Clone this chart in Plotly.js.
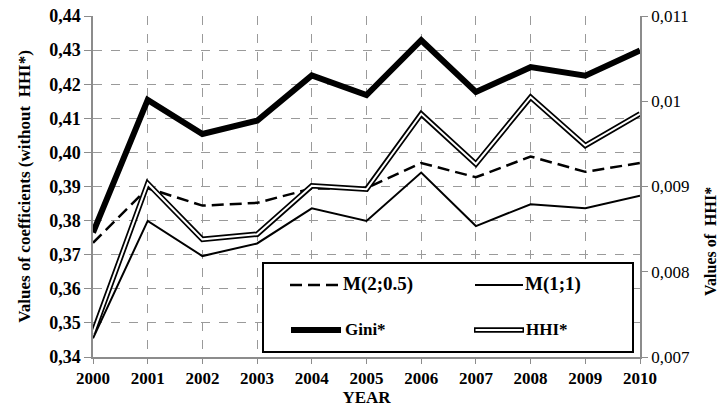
<!DOCTYPE html>
<html>
<head>
<meta charset="utf-8">
<script src="https://cdn.plot.ly/plotly-3.0.1.min.js"></script>
<style>html,body{margin:0;padding:0;background:#fff;}#chart{width:720px;height:407px;}</style>
</head>
<body>
<div id="chart"></div>
<script>
const years = [2000, 2001, 2002, 2003, 2004, 2005, 2006, 2007, 2008, 2009, 2010];
const m205 = [0.3735, 0.3895, 0.3844, 0.3852, 0.3894, 0.3895, 0.3969, 0.3927, 0.3988, 0.3943, 0.3969];
const m11 = [0.3455, 0.3799, 0.3696, 0.3733, 0.3836, 0.3799, 0.3941, 0.3784, 0.3848, 0.3836, 0.3873];
const gini = [0.3765, 0.4154, 0.4054, 0.4093, 0.4226, 0.4168, 0.4329, 0.4177, 0.4250, 0.4225, 0.4299];
const hhi = [0.00728, 0.009036, 0.00838, 0.00844, 0.009008, 0.008968, 0.009852, 0.009264, 0.010048, 0.00948, 0.009852];

const seriesNames = ['M(2;0.5)', 'M(1;1)', 'Gini*', 'HHI*'];

const FONT = 'Liberation Serif';
const gridColor = '#9a9a9a';
const axisColor = '#8c8c8c';

const traces = [
  {x: years, y: m205, name: seriesNames[0], mode: 'lines', line: {color: '#000', width: 2.5, dash: '12px,6px'}, yaxis: 'y'},
  {x: years, y: m11, name: seriesNames[1], mode: 'lines', line: {color: '#000', width: 2}, yaxis: 'y'},
  {x: years, y: hhi, name: seriesNames[3], mode: 'lines', line: {color: '#000', width: 5.5}, yaxis: 'y2'},
  {x: years, y: hhi, name: seriesNames[3], mode: 'lines', line: {color: '#fff', width: 2}, yaxis: 'y2'},
  {x: years, y: gini, name: seriesNames[2], mode: 'lines', line: {color: '#000', width: 6}, yaxis: 'y'}
];

const L = 93, R = 640, T = 16, B = 357;
const W = R - L, H = B - T;
const px = v => (v - L) / W;
const py = v => (B - v) / H;

const shapes = [
  {type: 'rect', xref: 'paper', yref: 'paper', x0: px(263), x1: px(633), y0: py(352), y1: py(263), line: {color: '#000', width: 2}, fillcolor: '#fff', layer: 'above'},
  {type: 'line', xref: 'paper', yref: 'paper', x0: px(290), x1: px(341), y0: py(285), y1: py(285), line: {color: '#000', width: 2.5, dash: '12px,6px'}, layer: 'above'},
  {type: 'line', xref: 'paper', yref: 'paper', x0: px(475), x1: px(523), y0: py(285), y1: py(285), line: {color: '#000', width: 2}, layer: 'above'},
  {type: 'line', xref: 'paper', yref: 'paper', x0: px(291), x1: px(341), y0: py(330), y1: py(330), line: {color: '#000', width: 6}, layer: 'above'},
  {type: 'line', xref: 'paper', yref: 'paper', x0: px(474), x1: px(524), y0: py(330), y1: py(330), line: {color: '#000', width: 5.5}, layer: 'above'},
  {type: 'line', xref: 'paper', yref: 'paper', x0: px(475.5), x1: px(522.5), y0: py(330), y1: py(330), line: {color: '#fff', width: 2}, layer: 'above'}
];

const legendAnn = (text, x, y, size) => ({
  text: '<b>' + text + '</b>', xref: 'paper', yref: 'paper', x: px(x), y: py(y),
  xanchor: 'left', yanchor: 'middle', showarrow: false, font: {family: FONT, size: size, color: '#000'}
});

const annotations = [
  legendAnn(seriesNames[0], 341, 284, 19),
  legendAnn(seriesNames[1], 523, 284, 19),
  legendAnn(seriesNames[2], 343, 329, 17),
  legendAnn(seriesNames[3], 524, 329, 17),
  {text: '<b>Values of  HHI*</b>', xref: 'paper', yref: 'paper', x: px(710), y: py(242),
   xanchor: 'center', yanchor: 'middle', textangle: -90, showarrow: false, font: {family: FONT, size: 16, color: '#000'}}
];

const layout = {
  width: 720, height: 407,
  margin: {l: L, r: 720 - R, t: T, b: 407 - B},
  paper_bgcolor: '#fff', plot_bgcolor: '#fff',
  separators: ', ',
  showlegend: false,
  font: {family: FONT, color: '#000', size: 16},
  xaxis: {
    range: [2000, 2010], tickvals: years, ticktext: years.map(String),
    showgrid: true, gridcolor: gridColor, griddash: 'dash', gridwidth: 1,
    showline: true, linecolor: axisColor, linewidth: 1.5,
    ticks: 'outside', ticklen: 5, tickcolor: axisColor,
    tickfont: {family: FONT, size: 17, color: '#000', weight: 'bold'},
    zeroline: false,
    title: {text: '<b>YEAR</b>', font: {family: FONT, size: 17, color: '#000'}, standoff: 1}
  },
  yaxis: {
    range: [0.34, 0.44], dtick: 0.01, tick0: 0.34, tickformat: '.2f',
    showgrid: true, gridcolor: gridColor, griddash: 'dash', gridwidth: 1,
    showline: true, linecolor: axisColor, linewidth: 1.5,
    ticks: 'outside', ticklen: 7, tickcolor: axisColor,
    tickfont: {family: FONT, size: 18, color: '#000', weight: 'bold'},
    zeroline: false,
    title: {text: '<b>Values of coefficients (without  HHI*)</b>', font: {family: FONT, size: 17, color: '#000'}, standoff: 14}
  },
  yaxis2: {
    overlaying: 'y', side: 'right',
    range: [0.007, 0.011], dtick: 0.001, tick0: 0.007, tickformat: '.3~f',
    showgrid: false,
    showline: true, linecolor: axisColor, linewidth: 1.5,
    ticks: 'outside', ticklen: 6, tickcolor: axisColor,
    tickfont: {family: FONT, size: 17, color: '#000'},
    zeroline: false
  },
  shapes: shapes,
  annotations: annotations
};

Plotly.newPlot('chart', traces, layout, {displayModeBar: false});
</script>
</body>
</html>
